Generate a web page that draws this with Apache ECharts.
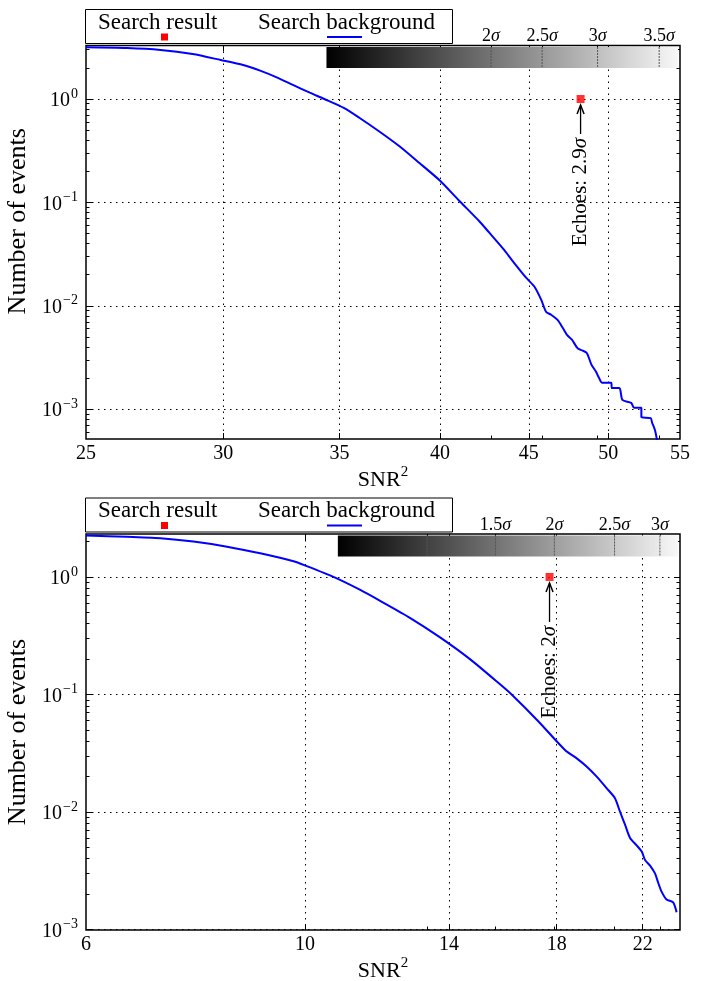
<!DOCTYPE html>
<html>
<head>
<meta charset="utf-8">
<script src="https://cdn.jsdelivr.net/npm/echarts@6/dist/echarts.min.js"></script>
<style>
  html, body { margin: 0; padding: 0; background: #fff; }
  #main { width: 701px; height: 981px; }
</style>
</head>
<body>
<div id="main"></div>
<script>
// ---- top panel: search background (cumulative number of events vs SNR^2)
var topSnr = [25.0, 26.4, 27.6, 28.8, 29.9, 30.8, 31.5, 32.2, 32.9, 33.65, 34.3, 35.2, 35.95,
  36.9, 37.9, 38.9, 40.0, 41.0, 42.15, 42.7, 43.55, 44.0, 44.85, 45.35, 45.75, 46.05, 46.35,
  46.75, 47.05, 47.35, 47.65, 48.0, 48.3, 48.6, 48.9, 49.2, 49.4, 49.6, 50.2, 50.25, 50.75,
  50.95, 51.55, 51.75, 52.25, 52.25, 52.9, 53.0, 53.2, 53.35];
var topCount = [3.16, 3.11, 2.98, 2.72, 2.38, 2.13, 1.88, 1.62, 1.37, 1.15, 1.0, 0.82, 0.655,
  0.485, 0.349, 0.242, 0.162, 0.105, 0.0654, 0.0509, 0.0347, 0.0277, 0.0186, 0.0152, 0.0114, 0.0087, 0.0082,
  0.0073, 0.0062, 0.0052, 0.0047, 0.0039, 0.0037, 0.0035, 0.0027, 0.0023, 0.0020, 0.0018, 0.0018, 0.0016, 0.0016,
  0.00123, 0.00115, 0.00103, 0.00103, 0.00084, 0.00082, 0.00074, 0.00063, 0.0005];
var topEcho = [48.2, 1];
var topEchoText = 'Echoes: 2.9';
var topSigma = [2, 2.5, 3, 3.5];
var topSigmaSnr = [42.8, 45.8, 49.3, 53.5];
var topBarStart = 34.4;
var topXLabels = [25, 30, 35, 40, 45, 50, 55];
var topXTicks = [30, 35, 40, 45, 50];

// ---- bottom panel
var botSnr = [6.0, 6.6, 7.14, 7.71, 8.34, 9.01, 9.74, 10.01, 10.69, 11.38, 11.92, 12.79, 13.71,
  14.71, 15.77, 16.22, 17.23, 18.35, 18.86, 19.31, 19.76, 20.23, 20.62, 20.86, 21.11, 21.36,
  21.69, 21.95, 22.12, 22.38, 22.64, 22.81, 22.99, 23.26, 23.62, 23.81];
var botCount = [2.25, 2.2, 2.135, 2.0, 1.81, 1.59, 1.36, 1.25, 1.0, 0.775, 0.626, 0.447, 0.306,
  0.199, 0.122, 0.099, 0.0595, 0.0337, 0.0286, 0.0243, 0.020, 0.0159, 0.0131, 0.0101, 0.0078, 0.0060,
  0.0052, 0.0046, 0.0039, 0.0035, 0.0030, 0.0025, 0.0021, 0.0018, 0.0017, 0.0014];
var botEcho = [17.7, 1];
var botEchoText = 'Echoes: 2';
var botSigma = [1, 1.5, 2, 2.5, 3];
var botSigmaSnr = [13.3, 15.6, 17.9, 20.6, 22.9];
var botBarStart = 10.8;
var botXLabels = [6, 10, 14, 18, 22];
var botXTicks = [10, 14, 18, 22];

var yMajor = [0.001, 0.01, 0.1, 1];

var FONT = '"Liberation Serif", "DejaVu Serif", serif';

var panels = [
  { grid: { left: 86, right: 21, top: 45.5, height: 393.5 }, xMin: 25, xMax: 55, yMin: 5.15e-4, yMax: 3.29,
    snr: topSnr, count: topCount, echo: topEcho, echoText: topEchoText, sigma: topSigma, sigmaSnr: topSigmaSnr,
    barStart: topBarStart, xLabels: topXLabels, xTicks: topXTicks, textGap: 39, yNameShift: 42 },
  { grid: { left: 86, right: 21, top: 534, height: 396 }, xMin: 6, xMax: 24, yMin: 0.00099, yMax: 2.32,
    snr: botSnr, count: botCount, echo: botEcho, echoText: botEchoText, sigma: botSigma, sigmaSnr: botSigmaSnr,
    barStart: botBarStart, xLabels: botXLabels, xTicks: botXTicks, textGap: 49, yNameShift: 0 }
];

function logMinor(min, max) {
  var out = [];
  for (var e = -4; e <= 1; e++) {
    for (var m = 2; m <= 9; m++) {
      var v = m * Math.pow(10, e);
      if (v > min && v < max) out.push(v);
    }
  }
  return out;
}

function supLabel(v) {
  var e = Math.round(Math.log10(v));
  return '{b|10}{e|' + String(e).replace('-', '\u2212') + '}';
}

var supRich = {
  b: { fontSize: 20, fontFamily: FONT, color: '#000', lineHeight: 24, verticalAlign: 'bottom' },
  e: { fontSize: 14, fontFamily: FONT, color: '#000', verticalAlign: 'top', padding: [0, 0, 0, 1] }
};

// decorative axis carrying only inward ticks (matplotlib draws ticks on all four sides)
function tickAxis(base, pos, vals, len) {
  return Object.assign({}, base, {
    position: pos,
    axisLine: { show: false },
    axisLabel: { show: false },
    splitLine: { show: false },
    axisTick: { show: true, inside: true, length: len, customValues: vals, lineStyle: { color: '#000', width: 1 } }
  });
}

var option = {
  animation: false,
  backgroundColor: '#fff',
  textStyle: { fontFamily: FONT },
  grid: [], xAxis: [], yAxis: [], series: []
};
var mainX = [], mainY = [];

panels.forEach(function (p, k) {
  option.grid.push(Object.assign({ show: true, borderColor: '#000', borderWidth: 1.5,
    backgroundColor: 'transparent', outerBoundsMode: 'none' }, p.grid));

  var xb = { type: 'log', logBase: 10, gridIndex: k, min: p.xMin, max: p.xMax };
  var yb = { type: 'log', logBase: 10, gridIndex: k, min: p.yMin, max: p.yMax };
  var gridDot = { show: true, lineStyle: { color: '#000', width: 1, type: [1.5, 4.5] } };

  mainX[k] = option.xAxis.length;
  option.xAxis.push(Object.assign({}, xb, {
    position: 'bottom',
    name: '{a|SNR}{s|2}', nameLocation: 'middle', nameGap: 26,
    nameTextStyle: { rich: {
      a: { fontSize: 22, fontFamily: FONT, color: '#000', lineHeight: 26, verticalAlign: 'bottom' },
      s: { fontSize: 15, fontFamily: FONT, color: '#000', verticalAlign: 'top' } } },
    axisLine: { show: false },
    axisTick: { show: true, inside: true, length: 6, customValues: p.xTicks, lineStyle: { color: '#000', width: 1 } },
    axisLabel: { customValues: p.xLabels, margin: 5, fontSize: 20, fontFamily: FONT, color: '#000' },
    splitLine: gridDot
  }));
  option.xAxis.push(tickAxis(xb, 'bottom', p.sigmaSnr, 3.5));
  option.xAxis.push(tickAxis(xb, 'top', p.xTicks, 6));
  option.xAxis.push(tickAxis(xb, 'top', p.sigmaSnr, 3.5));

  mainY[k] = option.yAxis.length;
  option.yAxis.push(Object.assign({}, yb, {
    position: 'left',
    name: 'Number of events', nameLocation: 'middle', nameGap: 47,
    nameTextStyle: { fontSize: 26, fontFamily: FONT, color: '#000', padding: [0, 0, 0, p.yNameShift] },
    axisLine: { show: false },
    axisTick: { show: true, inside: true, length: 6, customValues: yMajor, lineStyle: { color: '#000', width: 1 } },
    axisLabel: { customValues: yMajor, margin: 8, formatter: supLabel, rich: supRich },
    splitLine: gridDot
  }));
  var minors = logMinor(p.yMin, p.yMax);
  option.yAxis.push(tickAxis(yb, 'left', minors, 3.5));
  option.yAxis.push(tickAxis(yb, 'right', yMajor, 6));
  option.yAxis.push(tickAxis(yb, 'right', minors, 3.5));

  option.series.push({
    type: 'line', name: 'Search background', xAxisIndex: mainX[k], yAxisIndex: mainY[k],
    data: p.snr.map(function (x, i) { return [x, p.count[i]]; }),
    symbol: 'none', smooth: 0.25,
    lineStyle: { color: '#0000ff', width: 2 }, z: 3
  });
  option.series.push({
    type: 'scatter', name: 'Search result', xAxisIndex: mainX[k], yAxisIndex: mainY[k],
    data: [p.echo], symbol: 'rect', symbolSize: 8, itemStyle: { color: '#ff0000' }, z: 6
  });
});

var chart = echarts.init(document.getElementById('main'));
chart.setOption(option);

// overlays placed through the axes: sigma colour bar, annotation arrow, legend box
var g = [];
panels.forEach(function (p, k) {
  function toPx(x, y) {
    return chart.convertToPixel({ xAxisIndex: mainX[k], yAxisIndex: mainY[k] }, [x, y]);
  }
  var top = p.grid.top, right = 701 - p.grid.right, left = p.grid.left;
  var bx0 = toPx(p.barStart, 1)[0];
  g.push({ type: 'rect', z: 10, shape: { x: bx0, y: top + 1.5, width: right - 2 - bx0, height: 21 },
    style: { fill: new echarts.graphic.LinearGradient(0, 0, 1, 0, [
      { offset: 0, color: '#000' }, { offset: 1, color: '#f8f8f8' }]) } });
  p.sigmaSnr.forEach(function (s, i) {
    var sx = toPx(s, 1)[0];
    g.push({ type: 'line', z: 11, shape: { x1: sx, y1: top + 1.5, x2: sx, y2: top + 22.5 },
      style: { stroke: '#555', lineWidth: 1, lineDash: [2, 1] } });
    g.push({ type: 'text', z: 11, x: sx, y: top - 9,
      style: { text: '{n|' + p.sigma[i] + '}{s|\u03c3}', align: 'center', verticalAlign: 'middle',
        rich: { n: { fontSize: 18, fontFamily: FONT, fill: '#000' },
                s: { fontSize: 18, fontFamily: FONT, fontStyle: 'italic', fill: '#000' } } } });
  });

  // annotation
  var ep = toPx(p.echo[0], p.echo[1]);
  g.push({ type: 'line', z: 12, shape: { x1: ep[0], y1: ep[1] + p.textGap - 4, x2: ep[0], y2: ep[1] + 6 },
    style: { stroke: '#000', lineWidth: 1.3 } });
  g.push({ type: 'polyline', z: 12, shape: { points: [[ep[0] - 3.5, ep[1] + 15], [ep[0], ep[1] + 6], [ep[0] + 3.5, ep[1] + 15]] },
    style: { stroke: '#000', lineWidth: 1.5, fill: null } });
  g.push({ type: 'text', z: 12, x: ep[0], y: ep[1] + p.textGap, rotation: Math.PI / 2,
    style: { text: '{t|' + p.echoText + '}{s|\u03c3}', align: 'right', verticalAlign: 'middle',
      rich: { t: { fontSize: 21, fontFamily: FONT, fill: '#000' },
              s: { fontSize: 21, fontFamily: FONT, fontStyle: 'italic', fill: '#000' } } } });

  // legend box
  var ly = top - 36;
  g.push({ type: 'rect', z: 20, shape: { x: left - 0.5, y: ly, width: 367, height: 34 },
    style: { fill: '#fff', stroke: '#000', lineWidth: 1 } });
  g.push({ type: 'text', z: 21, x: left + 12, y: ly + 13,
    style: { text: 'Search result', fontSize: 23, fontFamily: FONT, fill: '#000', verticalAlign: 'middle' } });
  g.push({ type: 'rect', z: 21, shape: { x: left + 75, y: ly + 24, width: 7, height: 7 }, style: { fill: '#ff0000' } });
  g.push({ type: 'text', z: 21, x: left + 172, y: ly + 13,
    style: { text: 'Search background', fontSize: 23, fontFamily: FONT, fill: '#000', verticalAlign: 'middle' } });
  g.push({ type: 'line', z: 21, shape: { x1: left + 241, y1: ly + 27.5, x2: left + 276, y2: ly + 27.5 },
    style: { stroke: '#0000ff', lineWidth: 2 } });
});
chart.setOption({ graphic: g });
</script>
</body>
</html>
